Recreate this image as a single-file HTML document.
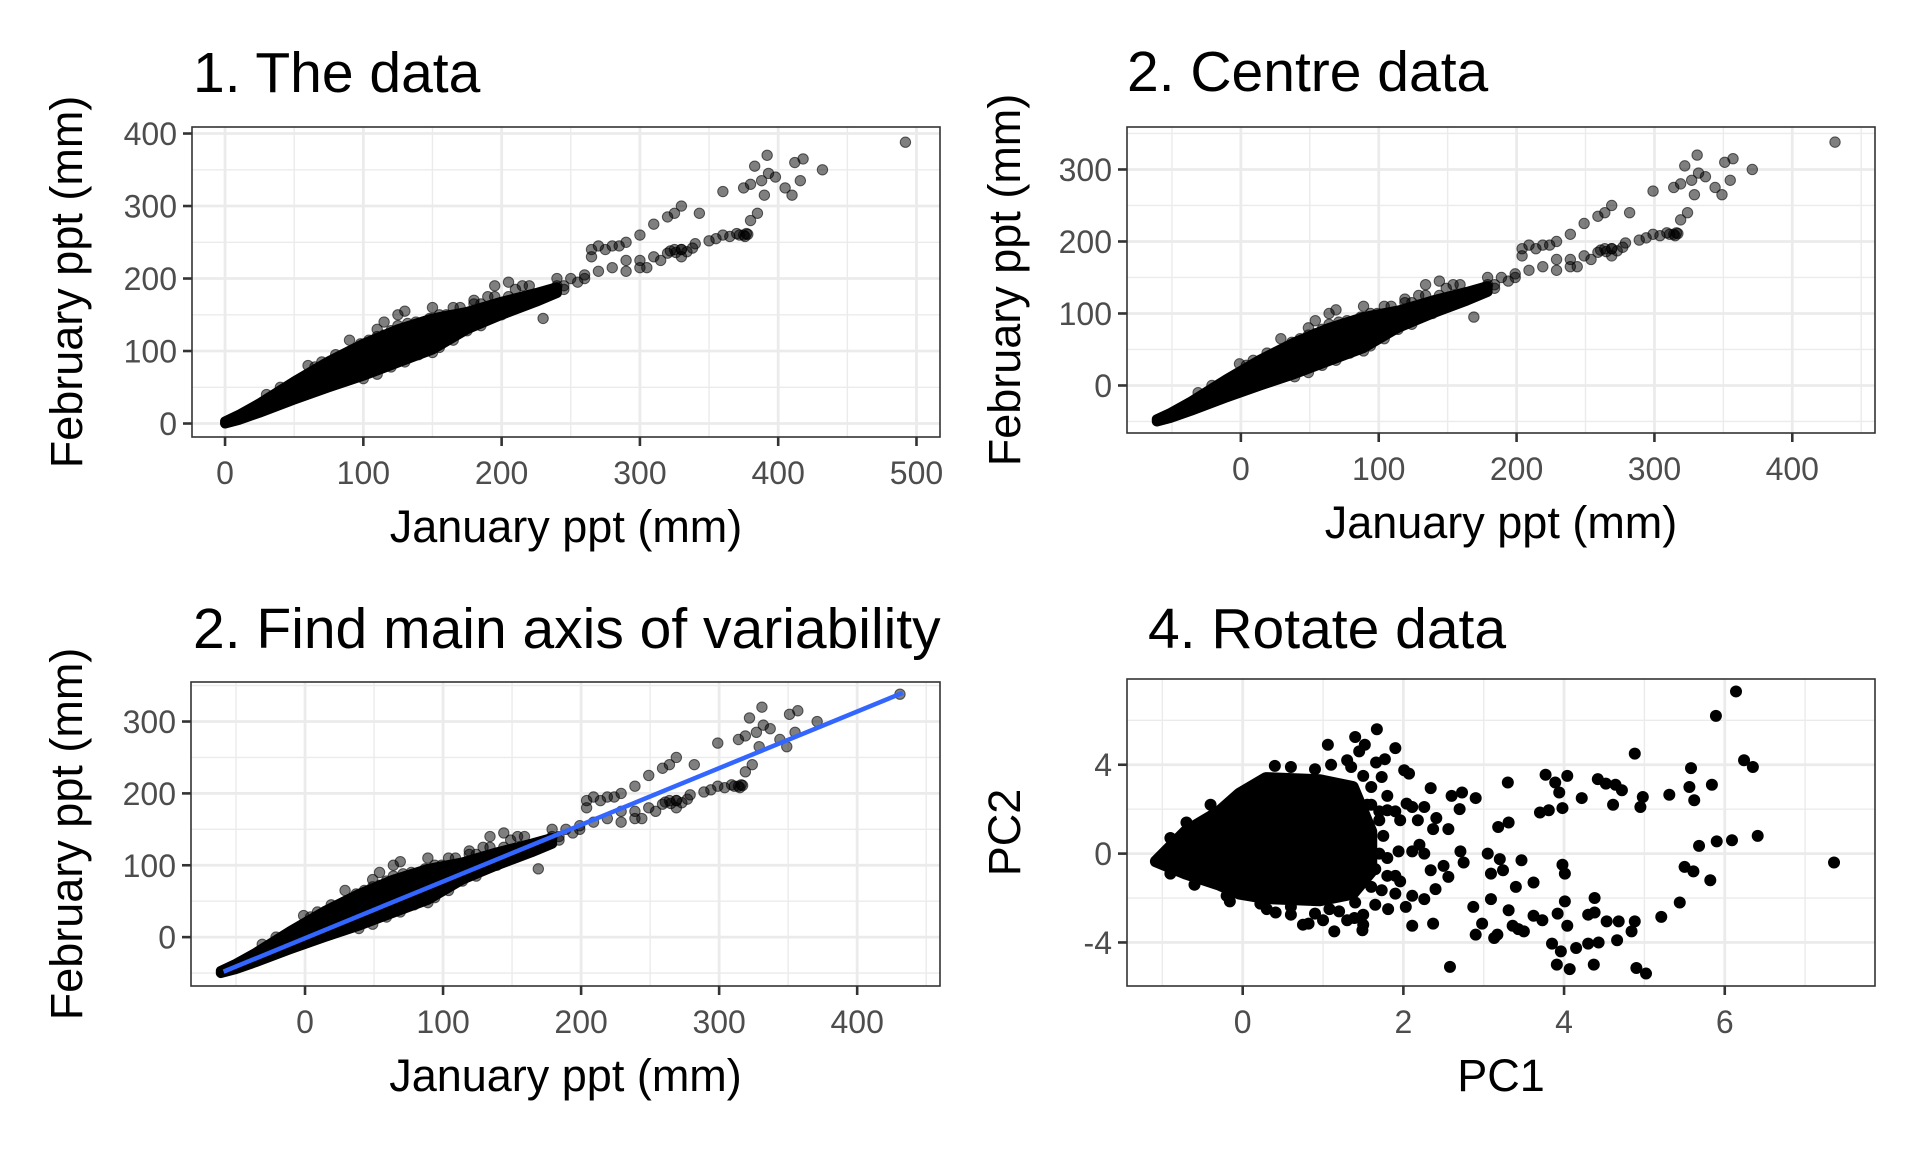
<!DOCTYPE html>
<html><head><meta charset="utf-8"><style>
html,body{margin:0;padding:0;background:#fff;}
svg{display:block;font-family:"Liberation Sans",Arial,sans-serif;}
</style></head><body>
<svg id="fig" width="1920" height="1152" viewBox="0 0 1920 1152" xmlns="http://www.w3.org/2000/svg">
<rect width="1920" height="1152" fill="#fff"/>
</svg>
<script>
// ---------- DATA ----------
const janPts = [230,240,245,265,270,275,280,285,265,290,300,310,320,325,330,343,360,375,380,383,392,388,390,398,405,410,412,418,432,416,492,385,380,393,
150,160,170,180,190,200,210,220,230,240,250,260,270,280,290,300,310,320,325,330,340,350,355,360,365,370,375,377,290,300,305,315,330,220,210,195,180,170,160,140,145,130,135,160,175,185,205,
120,125,132,138,142,148,155,110,115,128,135,112,118,98,104,88,92,80,70,65,
60,80,90,110,115,125,130,150,165,170,180,185,190,195,205,215,60,80,100,110,120,130,140,150,155,165,175,185,200,215,230,245,255,260,40,30,
322,326,330,334,338,372,376,378];
const febPts = [145,200,190,240,245,240,245,245,230,250,260,275,285,290,300,290,320,325,330,355,370,335,315,340,325,315,360,365,350,335,388,290,280,345,
115,125,132,140,150,160,165,175,180,190,200,205,210,215,225,225,230,235,240,240,248,252,255,260,258,262,260,262,210,215,215,225,230,190,185,175,165,160,150,130,100,100,95,140,145,140,175,
128,135,138,140,132,145,150,120,122,110,118,88,92,110,115,95,100,88,85,78,
80,95,115,130,140,150,155,160,160,150,170,165,175,190,195,190,42,55,62,68,78,85,95,98,105,115,128,135,150,170,180,185,195,200,50,40,
238,236,240,237,242,260,258,261];
const bandJan = [0,10,25,50,75,100,125,150,175,200,225,240];
const bandHigh = [3,12,28,58,86,110,130,145,154,168,180,188];
const bandLow = [0,5,15,33,50,66,84,102,130,150,168,180];
const meanJan = 61;
const meanFeb = 50;
const axisX = [-59,433];
const axisY = [-48,340];
const pc1 = [6.14,5.89,6.24,6.35,4.88,5.58,5.84,5.56,5.62,5.31,4.98,4.95,4.72,4.64,4.52,4.42,4.61,4.22,4.04,3.77,3.89,3.94,3.98,3.7,3.81,3.3,3.31,3.18,6.41,6.09,5.9,5.68,7.36,5.5,5.61,5.82,5.44,5.21,5.02,4.9,4.37,4.07,3.91,2.58,3.96,4.15,4.3,4.43,3.85,4.66,4.84,4.88,4.68,4.53,4.38,4.3,4.38,4.01,4.04,3.92,3.73,3.62,3.5,3.43,3.36,3.17,3.13,2.9,2.98,2.87,3.09,3.31,3.4,3.62,3.47,3.98,4.01,3.2,3.05,3.24,3.09,2.75,2.71,2.56,2.5,2.34,2.26,2.11,1.94,2.56,2.37,2.73,2.9,2.6,2.34,2.26,2.11,2.04,2.07,2.01,2.41,2.18,1.96,1.8,1.9,1.67,1.77,1.66,1.52,1.4,1.06,1.73,2.11,2.26,1.81,2.03,2.11,2.37,1.96,1.73,1.65,1.5,1.49,1.39,1.14,1.08,0.82,0.6,0.41,0.22,-0.16,1.2,1.6,1.7,1.8,1.9,2.2,2.4,2.7,
1.5,1.6,1.55,1.7,1.75,1.7,1.65,1.6,1.4,1.2,0.9,0.6,1.0,0.3,-0.2,-0.6,-0.9,1.3,1.1,0.9,0.6,0.4,1.45,1.35,1.8,1.9,-0.4,-0.7,-0.9,1.8,1.9,1.5,1.3,0.75];
const pc2 = [7.3,6.2,4.2,3.9,4.5,3.85,3.1,3.0,2.4,2.65,2.55,2.1,2.85,3.1,3.15,3.35,2.2,2.5,3.5,3.55,3.2,2.75,2.05,1.85,1.95,3.2,1.4,1.2,0.8,0.6,0.55,0.35,-0.4,-0.6,-0.8,-1.2,-2.2,-2.85,-5.4,-5.15,-5.0,-5.2,-5.0,-5.1,-4.4,-4.25,-4.05,-4.0,-4.05,-3.9,-3.5,-3.05,-3.05,-3.05,-2.65,-2.75,-2.0,-2.15,-3.25,-2.7,-3.0,-2.8,-3.5,-3.4,-3.25,-3.65,-3.8,-3.65,-3.15,-2.4,-2.05,-2.55,-1.5,-1.3,-0.3,-0.5,-0.9,-0.25,0.0,-0.75,-0.9,-0.4,0.1,-1.05,-0.55,-0.75,0.0,0.1,0.1,1.1,1.1,2.75,2.5,2.6,2.95,2.1,2.1,2.25,3.6,3.75,1.6,1.5,1.5,1.95,4.75,5.6,4.25,4.1,4.9,5.25,4.9,3.45,-1.9,-2.05,-2.5,-2.4,-3.25,-3.15,-1.25,-1.65,-2.3,-2.75,-3.45,-2.9,-3.5,-2.5,-3.15,-2.75,-2.65,-2.25,-2.15,-1.9,2.2,1.9,-0.2,-1.0,0.4,-1.6,2.0,
3.5,3.0,2.2,1.5,0.8,0.0,-0.7,-1.5,-2.2,-2.6,-2.7,-2.4,-3.0,-2.5,-1.9,-1.4,-0.9,4.2,4.0,3.8,3.9,3.95,4.6,3.9,2.6,1.9,2.2,1.4,0.7,-1.0,-1.8,-3.2,-3.0,-3.2];
const pcBandX = [-1.08,-0.71,-0.29,-0.04,0.29,0.96,1.37,1.6];
const pcBandHigh = [-0.35,1.0,1.9,2.7,3.4,3.3,3.0,1.0];
const pcBandLow = [-0.35,-0.9,-1.4,-1.8,-2.0,-2.1,-1.8,-0.8];
const ticksP1x = [0,100,200,300,400,500];
const ticksP1y = [0,100,200,300,400];
const ticksCx = [0,100,200,300,400];
const ticksCy = [0,100,200,300];
const ticksPCx = [0,2,4,6];
const ticksPCy = [-4,0,4];

// ---------- DRAWING ----------
const NS = "http://www.w3.org/2000/svg";
const svg = document.getElementById('fig');
function mk(tag, attrs, parent){
  const e = document.createElementNS(NS, tag);
  for (const k in attrs) e.setAttribute(k, attrs[k]);
  (parent||svg).appendChild(e);
  return e;
}
function panel(cfg){
  const g = mk('g', {});
  
  
  const L=cfg.box[0], T=cfg.box[1], R=cfg.box[2], B=cfg.box[3];
  const sx = v => L + (v-cfg.xd[0])/(cfg.xd[1]-cfg.xd[0])*(R-L);
  const sy = v => B - (v-cfg.yd[0])/(cfg.yd[1]-cfg.yd[0])*(B-T);
  const grid = mk('g', {}, g);
  
  
  cfg.xminor.forEach(v=>{ mk('line',{x1:sx(v),x2:sx(v),y1:T,y2:B,stroke:'#EBEBEB','stroke-width':1.4},grid); });
  cfg.yminor.forEach(v=>{ mk('line',{x1:L,x2:R,y1:sy(v),y2:sy(v),stroke:'#EBEBEB','stroke-width':1.4},grid); });
  cfg.xt.forEach(v=>{ mk('line',{x1:sx(v),x2:sx(v),y1:T,y2:B,stroke:'#EBEBEB','stroke-width':2.8},grid); });
  cfg.yt.forEach(v=>{ mk('line',{x1:L,x2:R,y1:sy(v),y2:sy(v),stroke:'#EBEBEB','stroke-width':2.8},grid); });
  const marks = mk('g', {}, g);
  
  
  cfg.draw(marks, sx, sy);
  mk('rect',{x:L,y:T,width:R-L,height:B-T,fill:'none',stroke:'#333','stroke-width':1.6},g);
  cfg.xt.forEach(v=>{
    mk('line',{x1:sx(v),x2:sx(v),y1:B,y2:B+9,stroke:'#333','stroke-width':2.6},g);
    const t = mk('text',{x:sx(v),y:B+47,'font-size':32,fill:'#4D4D4D','text-anchor':'middle'},g);
    t.textContent = v;
    
    
  });
  cfg.yt.forEach(v=>{
    mk('line',{x1:L-9,x2:L,y1:sy(v),y2:sy(v),stroke:'#333','stroke-width':2.6},g);
    const t = mk('text',{x:L-15,y:sy(v)+11.5,'font-size':32,fill:'#4D4D4D','text-anchor':'end'},g);
    t.textContent = v;
    
    
  });
  const ti = mk('text',{x:cfg.titleX,y:cfg.titleY,'font-size':57,fill:'#000'},g);
  ti.textContent = cfg.title;
  
  
  const xa = mk('text',{x:(L+R)/2,y:B+105,'font-size':45,fill:'#000','text-anchor':'middle'},g);
  xa.textContent = cfg.xlab;
  
  
  const cy=(T+B)/2;
  const ya = mk('text',{x:cfg.ylabX,y:cy,'font-size':45,fill:'#000','text-anchor':'middle',transform:`rotate(-90 ${cfg.ylabX} ${cy})`},g);
  ya.textContent = cfg.ylab;
  
  
}
function bandPath(xs, hi, lo, sx, sy, dx, dy){
  let d='';
  xs.forEach((x,i)=>{ d += (i?'L':'M')+sx(x-dx)+','+sy(hi[i]-dy); });
  for(let i=xs.length-1;i>=0;i--) d += 'L'+sx(xs[i]-dx)+','+sy(lo[i]-dy);
  return d+'Z';
}
function rawDraw(dx, dy){
  return (g, sx, sy)=>{
    const b = mk('path',{d:bandPath(bandJan,bandHigh,bandLow,sx,sy,dx,dy),fill:'#000',stroke:'#000','stroke-width':10,'stroke-linejoin':'round'},g);
    
    
    janPts.forEach((x,i)=>{
      const c = mk('circle',{cx:sx(x-dx),cy:sy(febPts[i]-dy),r:5.2,fill:'rgba(0,0,0,0.5)',stroke:'rgba(0,0,0,0.6)','stroke-width':1},g);
      
      
    });
  };
}
panel({name:'panel-the-data', box:[192,127,940,437], xd:[-23.9,517], yd:[-18.6,409],
  xt:ticksP1x, yt:ticksP1y, xminor:[50,150,250,350,450], yminor:[50,150,250,350],
  title:'1. The data', titleX:193, titleY:92, xlab:'January ppt (mm)', ylab:'February ppt (mm)', ylabX:82,
  draw: rawDraw(0,0)});
panel({name:'panel-centre-data', box:[1127,127,1875,433], xd:[-82.6,460], yd:[-66,359],
  xt:ticksCx, yt:ticksCy, xminor:[-50,50,150,250,350,450], yminor:[-50,50,150,250,350],
  title:'2. Centre data', titleX:1127, titleY:91, xlab:'January ppt (mm)', ylab:'February ppt (mm)', ylabX:1020,
  draw: rawDraw(meanJan, meanFeb)});
panel({name:'panel-main-axis', box:[191,682,940,986], xd:[-82.6,460], yd:[-68,355],
  xt:ticksCx, yt:ticksCy, xminor:[-50,50,150,250,350,450], yminor:[-50,50,150,250,350],
  title:'2. Find main axis of variability', titleX:193, titleY:648, xlab:'January ppt (mm)', ylab:'February ppt (mm)', ylabX:82,
  draw: (g,sx,sy)=>{
    rawDraw(meanJan, meanFeb)(g,sx,sy);
    const l = mk('line',{x1:sx(axisX[0]),y1:sy(axisY[0]),x2:sx(axisX[1]),y2:sy(axisY[1]),stroke:'#3366FF','stroke-width':4.5},g);
    
    
  }});
panel({name:'panel-rotate-data', box:[1127,679,1875,986], xd:[-1.44,7.87], yd:[-5.96,7.86],
  xt:ticksPCx, yt:ticksPCy, xminor:[-1,1,3,5,7], yminor:[-2,2,6],
  title:'4. Rotate data', titleX:1148, titleY:648, xlab:'PC1', ylab:'PC2', ylabX:1020,
  draw: (g,sx,sy)=>{
    const b = mk('path',{d:bandPath(pcBandX,pcBandHigh,pcBandLow,sx,sy,0,0),fill:'#000',stroke:'#000','stroke-width':12,'stroke-linejoin':'round'},g);
    
    
    pc1.forEach((x,i)=>{
      const c = mk('circle',{cx:sx(x),cy:sy(pc2[i]),r:6,fill:'#000'},g);
      
      
    });
  }});
</script>
</body></html>
